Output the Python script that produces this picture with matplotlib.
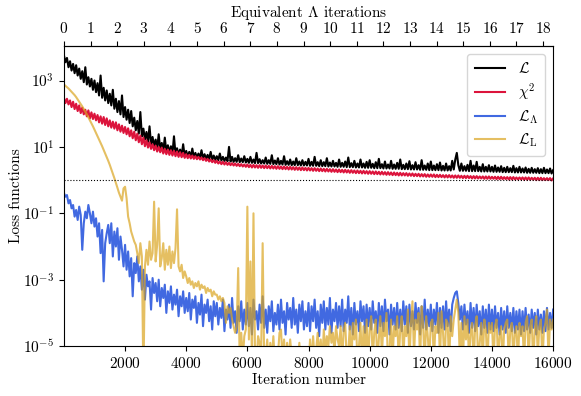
import numpy as np
import matplotlib
matplotlib.use('Agg')
import matplotlib.pyplot as plt
from matplotlib.ticker import FixedLocator, NullLocator, LogFormatterMathtext

plt.rcParams['font.family'] = 'serif'
plt.rcParams['font.serif'] = ['cmr10']
plt.rcParams['mathtext.fontset'] = 'cm'
plt.rcParams['axes.formatter.use_mathtext'] = True
plt.rcParams['font.size'] = 11

ITER_PER_LAMBDA = 870.7

# iteration grid, one reading every 50 iterations
iterations = np.arange(0, 16001, 50)

# log10 of each loss (rows of 1000 iterations)
log_total = [
    3.76, 3.55, 3.68, 3.40, 3.58, 3.30, 3.50, 3.22, 3.46, 3.15, 3.36, 3.05, 3.28, 2.95, 3.40, 2.88, 3.10, 2.82, 3.05, 2.72,
    3.00, 2.65, 2.92, 2.55, 3.15, 2.48, 2.78, 2.40, 2.70, 2.32, 2.60, 2.25, 2.72, 2.15, 2.45, 2.05, 2.38, 1.98, 2.55, 1.90,
    2.20, 1.82, 2.12, 1.72, 2.08, 1.62, 1.88, 1.50, 1.78, 1.40, 2.05, 1.32, 1.55, 1.22, 1.45, 1.15, 1.62, 1.08, 1.30, 1.02,
    1.22, 0.96, 1.38, 0.92, 1.12, 0.88, 1.28, 0.85, 1.05, 0.82, 1.02, 0.80, 1.32, 0.78, 0.96, 0.75, 0.92, 0.73, 1.08, 0.71,
    0.88, 0.70, 0.85, 0.69, 0.95, 0.68, 0.82, 0.67, 0.80, 0.66, 0.90, 0.65, 0.78, 0.64, 0.76, 0.63, 0.85, 0.62, 0.74, 0.61,
    0.72, 0.60, 0.80, 0.59, 0.70, 0.58, 0.68, 0.57, 1.00, 0.56, 0.70, 0.55, 0.66, 0.55, 0.75, 0.54, 0.65, 0.54, 0.72, 0.53,
    0.64, 0.52, 0.70, 0.52, 0.62, 0.51, 0.82, 0.51, 0.63, 0.50, 0.60, 0.50, 0.68, 0.49, 0.60, 0.49, 0.75, 0.48, 0.59, 0.48,
    0.66, 0.47, 0.58, 0.47, 0.72, 0.46, 0.57, 0.46, 0.62, 0.45, 0.56, 0.45, 0.66, 0.45, 0.56, 0.44, 0.60, 0.44, 0.55, 0.44,
    0.64, 0.43, 0.55, 0.43, 0.70, 0.43, 0.54, 0.42, 0.60, 0.42, 0.54, 0.42, 0.66, 0.41, 0.53, 0.41, 0.58, 0.41, 0.52, 0.40,
    0.62, 0.40, 0.52, 0.40, 0.56, 0.39, 0.68, 0.39, 0.51, 0.39, 0.58, 0.38, 0.50, 0.38, 0.62, 0.38, 0.50, 0.37, 0.55, 0.37,
    0.60, 0.37, 0.49, 0.36, 0.54, 0.36, 0.64, 0.36, 0.48, 0.35, 0.56, 0.35, 0.47, 0.35, 0.58, 0.34, 0.47, 0.34, 0.52, 0.34,
    0.62, 0.33, 0.46, 0.33, 0.50, 0.33, 0.57, 0.32, 0.45, 0.32, 0.54, 0.32, 0.45, 0.31, 0.60, 0.31, 0.44, 0.31, 0.50, 0.30,
    0.56, 0.30, 0.44, 0.30, 0.48, 0.30, 0.53, 0.29, 0.43, 0.29, 0.50, 0.29, 0.42, 0.29, 0.58, 0.32, 0.62, 0.82, 0.45, 0.28,
    0.50, 0.28, 0.42, 0.28, 0.46, 0.27, 0.58, 0.27, 0.44, 0.27, 0.55, 0.27, 0.40, 0.26, 0.48, 0.26, 0.40, 0.26, 0.45, 0.26,
    0.40, 0.25, 0.44, 0.25, 0.38, 0.25, 0.42, 0.24, 0.37, 0.24, 0.40, 0.24, 0.36, 0.24, 0.43, 0.23, 0.36, 0.23, 0.40, 0.23,
    0.35, 0.23, 0.38, 0.22, 0.34, 0.22, 0.37, 0.22, 0.33, 0.22, 0.36, 0.21, 0.33, 0.21, 0.37, 0.21, 0.32, 0.21, 0.35, 0.20,
    0.30,
]
log_chi2 = [
    2.48, 2.32, 2.45, 2.28, 2.40, 2.20, 2.36, 2.14, 2.30, 2.08, 2.25, 2.02, 2.18, 1.98, 2.12, 1.92, 2.10, 1.86, 2.04, 1.84,
    2.00, 1.80, 1.96, 1.74, 1.92, 1.70, 1.90, 1.66, 1.86, 1.62, 1.80, 1.58, 1.76, 1.55, 1.74, 1.50, 1.68, 1.46, 1.64, 1.42,
    1.60, 1.38, 1.56, 1.32, 1.50, 1.26, 1.46, 1.20, 1.40, 1.14, 1.34, 1.08, 1.28, 1.02, 1.20, 0.98, 1.14, 0.94, 1.08, 0.90,
    1.04, 0.86, 1.00, 0.84, 0.98, 0.80, 0.94, 0.78, 0.92, 0.76, 0.90, 0.74, 0.88, 0.72, 0.86, 0.70, 0.84, 0.69, 0.82, 0.67,
    0.78, 0.66, 0.76, 0.65, 0.74, 0.64, 0.72, 0.63, 0.70, 0.62, 0.68, 0.60, 0.66, 0.58, 0.64, 0.56, 0.62, 0.54, 0.60, 0.52,
    0.58, 0.50, 0.56, 0.48, 0.55, 0.47, 0.54, 0.46, 0.52, 0.45, 0.51, 0.44, 0.50, 0.43, 0.49, 0.42, 0.48, 0.41, 0.47, 0.40,
    0.47, 0.39, 0.46, 0.38, 0.46, 0.38, 0.45, 0.37, 0.45, 0.37, 0.44, 0.36, 0.44, 0.36, 0.43, 0.35, 0.43, 0.35, 0.42, 0.34,
    0.42, 0.34, 0.41, 0.33, 0.41, 0.33, 0.40, 0.32, 0.40, 0.32, 0.39, 0.31, 0.39, 0.31, 0.38, 0.30, 0.38, 0.30, 0.37, 0.29,
    0.37, 0.29, 0.36, 0.28, 0.36, 0.28, 0.35, 0.27, 0.35, 0.27, 0.34, 0.26, 0.34, 0.26, 0.33, 0.25, 0.33, 0.25, 0.32, 0.24,
    0.32, 0.24, 0.31, 0.23, 0.31, 0.23, 0.30, 0.22, 0.30, 0.22, 0.29, 0.21, 0.29, 0.21, 0.28, 0.20, 0.28, 0.20, 0.27, 0.19,
    0.27, 0.19, 0.26, 0.18, 0.26, 0.18, 0.25, 0.17, 0.25, 0.17, 0.24, 0.16, 0.24, 0.16, 0.23, 0.15, 0.23, 0.15, 0.22, 0.14,
    0.22, 0.14, 0.21, 0.14, 0.21, 0.13, 0.20, 0.13, 0.20, 0.12, 0.19, 0.12, 0.19, 0.11, 0.18, 0.11, 0.18, 0.10, 0.17, 0.10,
    0.17, 0.10, 0.17, 0.09, 0.16, 0.09, 0.16, 0.09, 0.15, 0.08, 0.15, 0.08, 0.15, 0.08, 0.14, 0.07, 0.14, 0.07, 0.14, 0.07,
    0.13, 0.06, 0.13, 0.06, 0.13, 0.06, 0.12, 0.05, 0.12, 0.05, 0.12, 0.05, 0.11, 0.05, 0.11, 0.04, 0.11, 0.04, 0.11, 0.04,
    0.10, 0.04, 0.10, 0.03, 0.10, 0.03, 0.10, 0.03, 0.09, 0.03, 0.09, 0.02, 0.09, 0.02, 0.09, 0.02, 0.08, 0.02, 0.08, 0.02,
    0.08, 0.01, 0.08, 0.01, 0.08, 0.01, 0.07, 0.01, 0.07, 0.00, 0.07, 0.00, 0.07, 0.00, 0.06, 0.00, 0.06, 0.00, 0.06, -0.01,
    0.05,
]
log_lambda = [
    -0.39, -0.50, -0.45, -0.70, -0.60, -0.85, -0.75, -1.10, -0.90, -1.20, -0.80, -1.05, -2.10, -1.30, -0.95, -1.15, -0.75, -1.00, -1.30, -0.95,
    -1.40, -1.15, -1.70, -1.30, -2.20, -1.50, -3.05, -1.90, -1.60, -1.35, -1.90, -1.30, -2.30, -1.55, -2.00, -1.45, -2.40, -1.70, -2.10, -2.60,
    -1.95, -2.70, -2.15, -2.90, -2.35, -3.50, -2.50, -2.80, -2.30, -3.05, -2.60, -3.30, -2.70, -3.60, -2.85, -3.20, -3.05, -3.90, -2.95, -3.40,
    -3.10, -3.65, -3.00, -3.80, -3.25, -3.55, -3.15, -4.00, -3.35, -3.70, -3.20, -3.90, -3.45, -3.75, -3.30, -4.10, -3.50, -3.80, -3.35, -4.00,
    -3.55, -3.95, -3.40, -4.20, -3.60, -3.85, -3.50, -4.30, -3.70, -4.05, -3.45, -4.40, -3.75, -4.00, -3.60, -4.25, -3.80, -4.50, -3.65, -4.10,
    -3.70, -4.35, -3.85, -4.15, -3.60, -4.55, -3.90, -4.20, -3.75, -4.45, -3.55, -4.30, -3.95, -4.60, -3.80, -4.25, -3.65, -4.50, -3.90, -4.35,
    -3.70, -4.40, -3.85, -4.65, -3.60, -4.20, -3.95, -4.50, -3.75, -4.30, -3.50, -4.45, -3.90, -4.60, -3.80, -4.25, -3.65, -4.55, -4.00, -4.35,
    -3.75, -4.50, -3.60, -4.30, -3.95, -4.65, -3.70, -4.20, -3.85, -4.45, -3.55, -4.35, -3.90, -4.60, -3.75, -4.25, -3.65, -4.50, -3.95, -4.40,
    -3.70, -4.55, -3.80, -4.25, -3.60, -4.45, -3.95, -4.70, -3.75, -4.30, -3.65, -4.50, -3.85, -4.35, -3.55, -4.60, -3.90, -4.25, -3.70, -4.45,
    -3.80, -4.40, -3.60, -4.55, -3.90, -4.30, -3.50, -4.50, -3.85, -4.65, -3.70, -4.35, -3.95, -4.55, -3.65, -4.25, -3.80, -4.60, -3.75, -4.40,
    -3.85, -4.50, -3.65, -4.30, -3.95, -4.60, -3.70, -4.40, -3.80, -4.55, -3.60, -4.25, -3.90, -4.65, -3.75, -4.35, -3.85, -4.50, -3.70, -4.45,
    -3.90, -4.55, -3.65, -4.35, -3.80, -4.60, -3.75, -4.40, -3.95, -4.50, -3.70, -4.30, -3.85, -4.65, -3.80, -4.45, -3.60, -4.50, -3.90, -4.40,
    -3.75, -4.55, -3.90, -4.35, -3.70, -4.60, -3.85, -4.45, -3.80, -4.50, -3.65, -4.40, -3.90, -4.55, -3.75, -3.55, -3.40, -3.35, -3.70, -4.20,
    -3.80, -4.50, -3.75, -4.35, -3.95, -4.60, -3.70, -4.45, -3.85, -4.55, -3.75, -4.40, -3.95, -4.65, -3.80, -4.45, -3.90, -4.60, -3.75, -4.50,
    -3.90, -4.55, -3.80, -4.45, -4.00, -4.65, -3.85, -4.50, -3.95, -4.60, -3.80, -4.45, -4.00, -4.55, -3.85, -4.60, -3.95, -4.50, -3.90, -4.65,
    -3.95, -4.55, -3.85, -4.50, -4.05, -4.60, -3.90, -4.45, -4.00, -4.65, -3.90, -4.50, -4.05, -4.60, -3.95, -4.55, -3.85, -4.50, -4.00, -4.45,
    -3.90,
]
log_line = [
    2.88, 2.84, 2.80, 2.76, 2.71, 2.66, 2.61, 2.56, 2.50, 2.43, 2.36, 2.29, 2.22, 2.14, 2.06, 1.98, 1.89, 1.80, 1.71, 1.62,
    1.52, 1.42, 1.32, 1.22, 1.12, 1.02, 0.91, 0.80, 0.69, 0.58, 0.46, 0.33, 0.20, 0.06, -0.08, -0.23, -0.38, -0.50, -0.62, -0.25,
    -0.20, -0.55, -1.10, -1.30, -1.55, -1.70, -1.85, -1.95, -2.20, -2.50, -1.90, -2.30, -6.00, -2.60, -2.10, -2.55, -1.85, -2.40, -2.20, -0.65,
    -2.45, -1.95, -0.85, -2.60, -2.35, -1.90, -2.70, -2.10, -2.55, -2.00, -2.65, -2.15, -2.50, -2.05, -0.88, -2.60, -2.75, -2.55, -2.95, -2.75,
    -2.90, -3.10, -2.95, -3.15, -3.05, -3.25, -3.10, -3.20, -3.05, -3.30, -3.15, -3.25, -3.20, -3.40, -3.25, -3.35, -3.30, -3.50, -3.35, -3.45,
    -3.45, -3.60, -3.50, -3.65, -3.55, -3.70, -4.30, -3.80, -4.00, -3.85, -4.20, -4.40, -4.60, -4.45, -2.65, -5.50, -4.60, -5.40, -4.70, -4.50,
    -0.80, -4.80, -2.45, -5.50, -1.00, -5.20, -5.50, -4.70, -4.90, -5.30, -1.90, -5.40, -5.30, -4.80, -5.60, -4.90, -5.40, -4.70, -5.50, -5.20,
    -5.30, -4.60, -4.50, -5.40, -4.80, -5.60, -4.90, -5.50, -4.80, -5.30, -5.60, -5.70, -5.20, -5.50, -4.90, -5.60, -5.40, -5.80, -5.20, -5.50,
    -5.60, -4.80, -5.50, -4.70, -5.40, -5.10, -4.60, -5.30, -4.80, -5.50, -4.50, -5.20, -4.70, -5.00, -4.40, -4.90, -4.60, -5.20, -4.40, -4.80,
    -5.00, -4.40, -5.50, -4.50, -4.30, -5.40, -5.20, -4.40, -5.60, -4.30, -4.80, -4.20, -5.50, -5.00, -4.30, -5.60, -4.40, -5.30, -4.20, -5.50,
    -4.50, -4.10, -5.40, -4.60, -4.20, -5.50, -4.80, -4.10, -5.30, -4.30, -4.70, -4.00, -5.60, -5.10, -4.20, -5.40, -4.40, -4.70, -4.10, -5.50,
    -4.50, -4.10, -5.40, -4.40, -4.70, -3.90, -5.50, -4.30, -3.65, -5.30, -4.20, -4.50, -4.00, -5.50, -3.80, -4.40, -5.60, -4.10, -4.70, -5.40,
    -4.30, -4.20, -5.50, -4.40, -4.60, -4.00, -5.40, -3.95, -4.60, -5.50, -4.20, -4.30, -5.60, -4.10, -4.70, -4.20, -3.90, -3.60, -4.00, -5.40,
    -4.30, -5.50, -4.10, -4.80, -4.20, -5.40, -4.60, -4.30, -5.60, -4.40, -4.10, -5.50, -4.90, -4.30, -5.40, -4.20, -4.50, -5.60, -4.30, -4.60,
    -4.30, -5.50, -4.40, -4.20, -5.40, -4.70, -4.40, -5.60, -4.50, -4.30, -4.20, -5.50, -4.50, -4.30, -5.40, -4.60, -4.40, -5.50, -4.30, -4.70,
    -4.40, -5.50, -4.30, -4.10, -5.40, -4.40, -4.20, -5.60, -4.50, -4.10, -5.30, -4.40, -4.20, -5.50, -4.50, -4.30, -3.90, -5.40, -4.20, -4.50,
    -4.20,
]

series = [
    (log_total,  r'$\mathcal{L}$',         'black',     1.0),
    (log_chi2,   r'$\chi^2$',              'crimson',   1.0),
    (log_lambda, r'$\mathcal{L}_\Lambda$', 'royalblue', 1.0),
    (log_line,   r'$\mathcal{L}_{\rm L}$', 'goldenrod', 0.7),
]

fig = plt.figure(figsize=(5.81, 3.96), dpi=100)
ax = fig.add_axes([0.110, 0.126, 0.842, 0.758])

for vals, label, color, alpha in series:
    ax.plot(iterations, 10.0 ** np.array(vals), color=color, alpha=alpha, lw=1.5, label=label)

ax.axhline(1.0, color='k', ls=':', lw=0.8)

ax.set_yscale('log')
ax.set_ylim(1e-5, 1.1e4)
ax.set_xlim(0, 16000)
ax.yaxis.set_major_locator(FixedLocator([1e-5, 1e-3, 1e-1, 1e1, 1e3]))
ax.yaxis.set_major_formatter(LogFormatterMathtext())
ax.yaxis.set_minor_locator(NullLocator())
ax.set_xticks(np.arange(2000, 16001, 2000))

ax.set_xlabel('Iteration number', labelpad=2)
ax.set_ylabel('Loss functions', labelpad=0)

# top axis in units of Lambda iterations
top = ax.secondary_xaxis('top', functions=(lambda x: x / ITER_PER_LAMBDA, lambda x: x * ITER_PER_LAMBDA))
top.set_xticks(np.arange(0, 19, 1))
top.set_xlabel(r'Equivalent $\Lambda$ iterations', labelpad=3)

ax.legend(loc='upper right', fontsize=11, handlelength=2.0, borderpad=0.5,
          labelspacing=0.35, handletextpad=0.8)

fig.savefig('out.png', dpi=100)
